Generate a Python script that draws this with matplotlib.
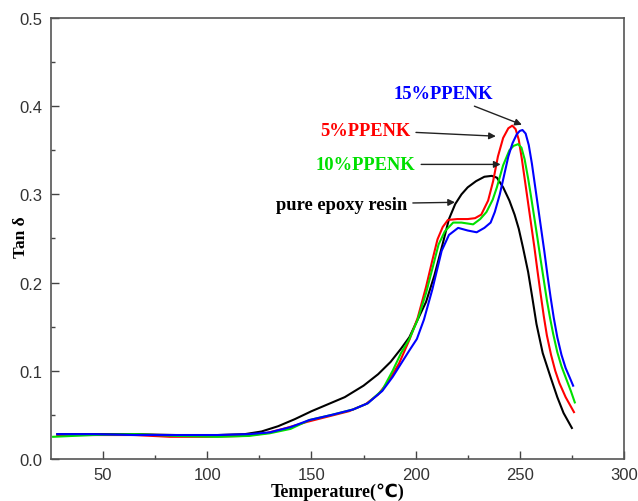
import matplotlib
matplotlib.use("Agg")
import matplotlib.pyplot as plt

# Tan delta vs temperature
pure_t = [28, 45, 65, 85, 105, 118, 126, 134, 142, 150, 158, 166, 175, 182, 188, 193, 197,
          201, 205, 209, 213, 216, 219, 222, 225, 229, 233, 236.5, 239, 242, 245, 247.5,
          249.5, 251.5, 254, 256, 258, 261, 265, 268, 271, 275]
pure_y = [0.028, 0.028, 0.028, 0.027, 0.027, 0.028, 0.031, 0.037, 0.045, 0.054, 0.062, 0.070,
          0.083, 0.096, 0.110, 0.125, 0.138, 0.158, 0.178, 0.208, 0.244, 0.272, 0.289, 0.300,
          0.308, 0.315, 0.320, 0.321, 0.319, 0.308, 0.293, 0.277, 0.261, 0.240, 0.212, 0.183,
          0.153, 0.120, 0.091, 0.070, 0.052, 0.035]

p5_t = [28, 45, 65, 82, 100, 118, 128, 138, 148, 158, 168, 176, 182, 187, 192, 197, 201, 205,
        208, 210.5, 213, 215.5, 220, 225, 228.5, 231.5, 234.8, 237.2, 239.5, 242, 244.5, 246.4,
        248, 249.5, 251, 252.5, 254, 255.5, 257, 258.5, 260, 261.5, 263, 265, 267, 269, 272, 276]
p5_y = [0.027, 0.027, 0.027, 0.025, 0.025, 0.026, 0.029, 0.035, 0.042, 0.048, 0.054, 0.062,
        0.073, 0.088, 0.108, 0.135, 0.160, 0.195, 0.225, 0.249, 0.263, 0.271, 0.272, 0.272,
        0.273, 0.277, 0.293, 0.315, 0.343, 0.364, 0.375, 0.378, 0.374, 0.362, 0.340, 0.315,
        0.290, 0.265, 0.240, 0.213, 0.187, 0.162, 0.140, 0.118, 0.100, 0.086, 0.070, 0.053]

p10_t = [26, 45, 65, 85, 105, 120, 130, 140, 149, 160, 170, 177, 184, 189, 193, 197, 201, 205,
         208.5, 211, 214, 218, 222, 227.6, 231, 234, 237, 239, 242, 245, 247, 249.2, 250.8,
         252.3, 254, 255.5, 257, 258.5, 260, 261.5, 263, 264.5, 266, 268, 270, 272.4, 274.5, 276.4]
p10_y = [0.025, 0.027, 0.028, 0.026, 0.025, 0.026, 0.029, 0.034, 0.044, 0.050, 0.056, 0.063,
         0.078, 0.100, 0.120, 0.136, 0.158, 0.188, 0.220, 0.243, 0.258, 0.268, 0.268, 0.266,
         0.272, 0.280, 0.294, 0.308, 0.333, 0.350, 0.355, 0.357, 0.353, 0.340, 0.318, 0.296,
         0.273, 0.250, 0.226, 0.203, 0.180, 0.160, 0.142, 0.121, 0.105, 0.090, 0.077, 0.064]

p15_t = [28, 45, 65, 85, 105, 120, 130, 140, 149, 160, 170, 177, 184, 189, 193, 197, 200.6,
         204, 208, 212.5, 216, 220.4, 225, 229.3, 233, 236, 238, 240.4, 242.5, 244.5, 246.5,
         248.5, 250, 251.3, 252.8, 254.3, 255.8, 257.3, 258.8, 260.3, 261.8, 263.3, 264.8,
         266.3, 268, 270, 272, 274, 275.6]
p15_y = [0.028, 0.028, 0.027, 0.027, 0.027, 0.028, 0.030, 0.036, 0.044, 0.050, 0.056, 0.063,
         0.077, 0.093, 0.108, 0.123, 0.136, 0.158, 0.192, 0.236, 0.254, 0.262, 0.259, 0.257,
         0.262, 0.268, 0.280, 0.300, 0.322, 0.343, 0.358, 0.368, 0.372, 0.373, 0.369, 0.356,
         0.335, 0.310, 0.285, 0.260, 0.235, 0.208, 0.183, 0.160, 0.138, 0.118, 0.103, 0.092, 0.083]

labels = ["pure epoxy resin", "5%PPENK", "10%PPENK", "15%PPENK"]
colors = ["black", "#ff0000", "#00e000", "#0000ff"]

# label text anchor (right end) and arrow tip for each curve
label_xy = [(196, 0.289), (197.5, 0.373), (200, 0.334), (237, 0.414)]
arrow_tip = [(218.9, 0.291), (238.5, 0.366), (240.8, 0.334), (251, 0.379)]

fig = plt.figure(figsize=(6.38, 5.02), dpi=100)
ax = fig.add_axes([0.08, 0.084, 0.898, 0.878])

curves = [(pure_t, pure_y), (p5_t, p5_y), (p10_t, p10_y), (p15_t, p15_y)]
for (t, y), c in zip(curves, colors):
    ax.plot(t, y, color=c, lw=1.5)

for lab, c, xy, tip in zip(labels, colors, label_xy, arrow_tip):
    ax.annotate(lab, xy=tip, xytext=xy, ha="right", va="center",
                color=c, fontsize=13.3, fontweight="bold", family="Liberation Serif",
                arrowprops=dict(arrowstyle="-|>", color="#222222", lw=1.0,
                                mutation_scale=10, shrinkA=2, shrinkB=0))

ax.set_xlim(25, 300)
ax.set_ylim(0, 0.5)
ax.set_xticks([50, 100, 150, 200, 250, 300])
ax.set_xticks([75, 125, 175, 225, 275], minor=True)
ax.set_yticks([0.0, 0.1, 0.2, 0.3, 0.4, 0.5])
ax.set_yticks([0.05, 0.15, 0.25, 0.35, 0.45], minor=True)
ax.set_yticklabels(["0.0", "0.1", "0.2", "0.3", "0.4", "0.5"])
ax.tick_params(which="both", direction="in", colors="#444444", labelcolor="#333333",
               labelsize=12, width=1.0, pad=6)
ax.tick_params(which="major", length=6)
ax.tick_params(which="minor", length=3)
for lab in ax.get_xticklabels() + ax.get_yticklabels():
    lab.set_family("Liberation Sans")
for s in ax.spines.values():
    s.set_color("#555555")
    s.set_linewidth(1.2)

ax.set_xlabel("Temperature(℃)", fontsize=13, fontweight="bold",
              family=["Liberation Serif", "DejaVu Sans"], labelpad=0)
ax.set_ylabel("Tan δ", fontsize=12.5, fontweight="bold",
              family=["Liberation Serif", "DejaVu Serif"])
ax.yaxis.set_label_coords(-0.038, 0.505)

plt.savefig("out.png", dpi=100)
